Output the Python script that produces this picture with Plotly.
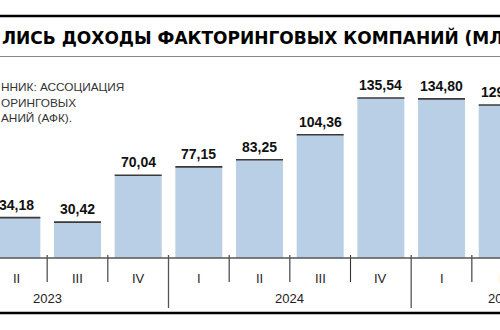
import plotly.graph_objects as go

# ---- data ----
quarters = ["II", "III", "IV", "I", "II", "III", "IV", "I", "II"]
years = ["2023", "2023", "2023", "2024", "2024", "2024", "2024", "2025", "2025"]
values = [34.18, 30.42, 70.04, 77.15, 83.25, 104.36, 135.54, 134.80, 129.60]
year_list = ["2023", "2024", "2025"]
quarters_in_year = [4, 4, 3]

title_text = "ЛИСЬ ДОХОДЫ ФАКТОРИНГОВЫХ КОМПАНИЙ (МЛРД РУБ.)"
source_lines = ["ННИК: АССОЦИАЦИЯ", "ОРИНГОВЫХ", "АНИЙ (АФК)."]

roman = {"I": 1, "II": 2, "III": 3, "IV": 4}

# index in the quarter sequence starting at Q1 of the first year
x = [(int(y) - int(year_list[0])) * 4 + roman[q] - 1 for q, y in zip(quarters, years)]

# year spans
year_centers = []
start = 0
for n in quarters_in_year:
    year_centers.append(start + (n - 1) / 2)
    start += n

# ---- layout geometry ----
W, H = 500, 330
top_m, bot_m = 60, 72
plot_h = H - top_m - bot_m
base_px = H - bot_m          # pixel row of value 0
pitch = 60.67                # px per quarter
x_range = [0.7226, 0.7226 + W / pitch]
y_max = 167.7


def py(px):  # pixel row -> paper y
    return (base_px - px) / plot_h


def fx(xi):  # x data -> paper x (plot area spans the full width)
    return (xi - x_range[0]) / (x_range[1] - x_range[0])


bar_w = 0.775
bar_color = "#b9cfe5"
top_line_color = "#3a3a3a"
label_font = "Liberation Sans, Arial, sans-serif"

fig = go.Figure()
fig.add_trace(go.Bar(
    x=x, y=values, width=bar_w,
    marker=dict(color=bar_color, line=dict(width=0)),
    hoverinfo="skip",
))

shapes = []
# bar top borders
for xi, v in zip(x, values):
    shapes.append(dict(type="line", xref="x", yref="y", x0=xi - bar_w / 2, x1=xi + bar_w / 2,
                       y0=v, y1=v, line=dict(color=top_line_color, width=1.6)))
# dividers between quarters
for i in range(len(x) - 1):
    b = (x[i] + x[i + 1]) / 2
    long = quarters[i + 1] == "I"
    shapes.append(dict(type="line", xref="x", yref="paper", x0=b, x1=b,
                       y0=py(255), y1=py(308 if long else 282),
                       line=dict(color="#555" if long else "#333", width=1.3 if long else 1.1)))
# baseline
shapes.append(dict(type="line", xref="paper", yref="paper", x0=0, x1=1, y0=0, y1=0,
                   line=dict(color="#555", width=1.5)))
# top thick rule
shapes.append(dict(type="line", xref="paper", yref="paper", x0=0, x1=1, y0=py(16), y1=py(16),
                   line=dict(color="#000", width=2.6)))
# thin rule under title
shapes.append(dict(type="line", xref="paper", yref="paper", x0=0, x1=1, y0=py(56.5), y1=py(56.5),
                   line=dict(color="#888", width=1)))
# bottom thick rule
shapes.append(dict(type="line", xref="paper", yref="paper", x0=0, x1=1, y0=py(313), y1=py(313),
                   line=dict(color="#000", width=2.6)))

annotations = [dict(
    xref="paper", yref="paper", x=0, y=py(37), xanchor="left", yanchor="middle",
    text=title_text, showarrow=False,
    font=dict(family="DejaVu Sans, sans-serif", size=17, color="#000", weight="bold"),
)]
for line, ypx in zip(source_lines, [87, 102.5, 118]):
    annotations.append(dict(
        xref="paper", yref="paper", x=0, y=py(ypx), xanchor="left", yanchor="middle",
        text=line, showarrow=False, borderpad=0,
        font=dict(family=label_font, size=11.8, color="#333"),
    ))
# value labels
for xi, v in zip(x, values):
    annotations.append(dict(
        xref="paper", yref="y", x=fx(xi), y=v, xanchor="center", yanchor="bottom",
        yshift=4, text=f"{v:.2f}".replace(".", ","), showarrow=False, borderpad=0,
        font=dict(family=label_font, size=14, color="#111", weight="bold"),
    ))
# quarter labels
for xi, q in zip(x, quarters):
    annotations.append(dict(
        xref="paper", yref="paper", x=fx(xi), y=py(278), xanchor="center", yanchor="middle",
        text=q, showarrow=False, borderpad=0,
        font=dict(family=label_font, size=13, color="#222"),
    ))
# year labels
for xc, yr in zip(year_centers, year_list):
    annotations.append(dict(
        xref="paper", yref="paper", x=fx(xc), y=py(298), xanchor="center", yanchor="middle",
        text=yr, showarrow=False, borderpad=0,
        font=dict(family=label_font, size=13, color="#222"),
    ))

fig.update_layout(
    width=W, height=H,
    margin=dict(l=0, r=0, t=top_m, b=bot_m),
    paper_bgcolor="white", plot_bgcolor="white",
    showlegend=False, separators=", ",
    xaxis=dict(range=x_range, visible=False, fixedrange=True),
    yaxis=dict(range=[0, y_max], visible=False, fixedrange=True),
    shapes=shapes, annotations=annotations,
)

fig.write_html("out.html")
